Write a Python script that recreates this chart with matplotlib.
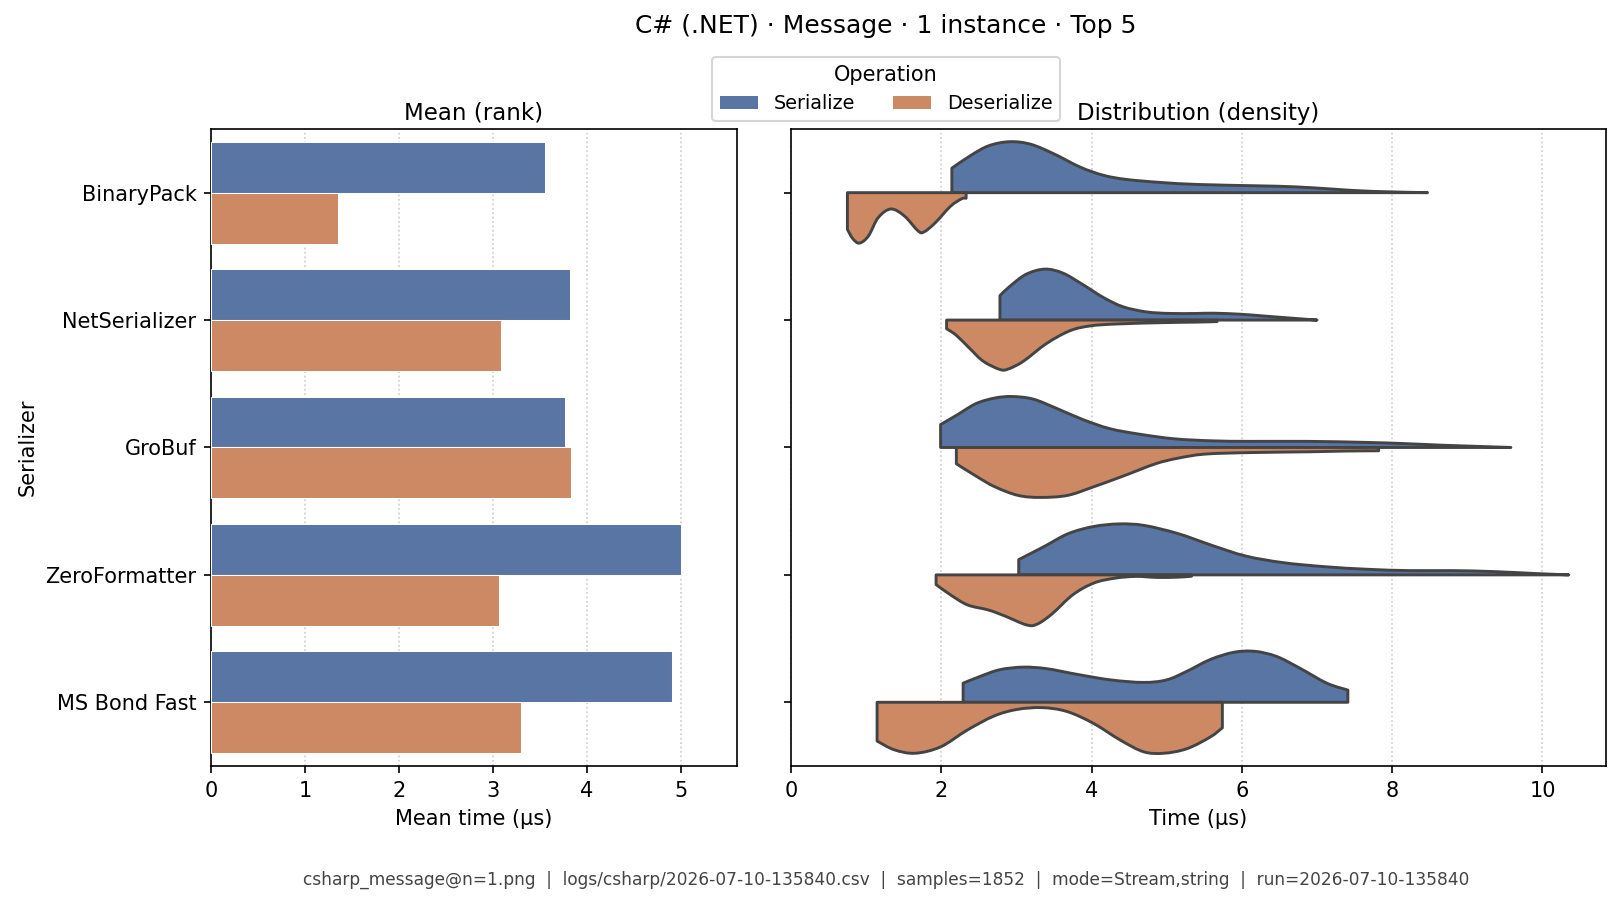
import matplotlib
matplotlib.use("Agg")
import matplotlib.pyplot as plt
from matplotlib.patches import Patch, PathPatch
from matplotlib.path import Path

# categories and operations
serializers = ["BinaryPack", "NetSerializer", "GroBuf", "ZeroFormatter", "MS Bond Fast"]
operations = ["Serialize", "Deserialize"]

# mean time (µs) per serializer
mean_serialize = [3.56, 3.82, 3.77, 5.00, 4.91]
mean_deserialize = [1.35, 3.09, 3.83, 3.07, 3.30]

# violin profiles: time (µs) and relative density (peak = 1)
bp_ser_x = [2.14, 2.38, 2.63, 2.91, 3.19, 3.50, 3.85, 4.16, 4.46, 4.92, 5.43, 6.19, 6.70, 7.21, 7.72, 8.47]
bp_ser_d = [0.48, 0.72, 0.92, 1.00, 0.95, 0.76, 0.50, 0.34, 0.26, 0.20, 0.16, 0.135, 0.115, 0.07, 0.026, 0.0]
bp_des_x = [0.75, 0.82, 0.91, 1.03, 1.16, 1.33, 1.51, 1.69, 1.77, 1.92, 2.12, 2.27, 2.33]
bp_des_d = [0.72, 0.90, 0.99, 0.85, 0.49, 0.32, 0.46, 0.75, 0.77, 0.59, 0.27, 0.12, 0.11]

ns_ser_x = [2.78, 2.91, 3.13, 3.38, 3.62, 3.89, 4.16, 4.42, 4.73, 5.04, 5.40, 5.62, 5.98, 6.29, 6.64, 7.00]
ns_ser_d = [0.48, 0.66, 0.90, 1.00, 0.92, 0.69, 0.44, 0.26, 0.16, 0.13, 0.13, 0.135, 0.115, 0.08, 0.04, 0.0]
ns_des_x = [2.07, 2.20, 2.38, 2.56, 2.78, 2.89, 3.09, 3.40, 3.71, 3.98, 4.33, 4.96, 5.40, 5.67]
ns_des_d = [0.17, 0.30, 0.56, 0.81, 0.97, 0.96, 0.81, 0.46, 0.21, 0.115, 0.077, 0.05, 0.04, 0.03]

gb_ser_x = [1.99, 2.20, 2.46, 2.71, 2.94, 3.22, 3.53, 3.88, 4.24, 4.64, 5.10, 5.61, 6.12, 6.88, 7.64, 8.15, 8.66, 9.17, 9.58]
gb_ser_d = [0.45, 0.63, 0.86, 0.97, 1.00, 0.95, 0.77, 0.55, 0.37, 0.26, 0.17, 0.13, 0.12, 0.12, 0.10, 0.077, 0.045, 0.02, 0.0]
gb_des_x = [2.20, 2.46, 2.71, 3.02, 3.32, 3.68, 4.03, 4.44, 4.85, 5.15, 5.51, 6.12, 6.88, 7.39, 7.82]
gb_des_d = [0.32, 0.56, 0.77, 0.94, 0.98, 0.94, 0.77, 0.55, 0.32, 0.21, 0.13, 0.10, 0.085, 0.07, 0.065]

zf_ser_x = [3.03, 3.36, 3.69, 4.03, 4.37, 4.70, 5.15, 5.60, 6.05, 6.55, 7.11, 7.67, 8.23, 8.79, 9.35, 9.91, 10.35]
zf_ser_d = [0.30, 0.55, 0.81, 0.95, 1.00, 0.97, 0.81, 0.58, 0.37, 0.24, 0.16, 0.11, 0.084, 0.084, 0.065, 0.026, 0.0]
zf_des_x = [1.93, 2.12, 2.35, 2.63, 2.85, 3.13, 3.27, 3.47, 3.75, 4.03, 4.31, 4.59, 4.87, 5.15, 5.33]
zf_des_d = [0.19, 0.39, 0.59, 0.69, 0.81, 0.98, 0.97, 0.77, 0.39, 0.16, 0.065, 0.03, 0.05, 0.045, 0.026]

mb_ser_x = [2.29, 2.52, 2.78, 3.09, 3.40, 3.80, 4.25, 4.69, 5.00, 5.27, 5.58, 5.89, 6.17, 6.46, 6.77, 7.13, 7.41]
mb_ser_d = [0.375, 0.51, 0.64, 0.69, 0.66, 0.55, 0.44, 0.39, 0.44, 0.61, 0.84, 0.98, 1.00, 0.90, 0.67, 0.375, 0.24]
mb_des_x = [1.145, 1.37, 1.65, 1.99, 2.34, 2.70, 3.01, 3.34, 3.67, 4.02, 4.38, 4.69, 4.96, 5.27, 5.58, 5.74]
mb_des_d = [0.76, 0.93, 1.00, 0.875, 0.55, 0.27, 0.14, 0.105, 0.18, 0.41, 0.74, 0.97, 1.00, 0.91, 0.68, 0.50]

footer = ("csharp_message@n=1.png  |  logs/csharp/2026-07-10-135840.csv  |  samples=1852  |  "
          "mode=Stream,string  |  run=2026-07-10-135840")

ser_color = "#5975a4"
des_color = "#cc8963"
edge = "#444444"

violins = [
    (bp_ser_x, bp_ser_d, bp_des_x, bp_des_d),
    (ns_ser_x, ns_ser_d, ns_des_x, ns_des_d),
    (gb_ser_x, gb_ser_d, gb_des_x, gb_des_d),
    (zf_ser_x, zf_ser_d, zf_des_x, zf_des_d),
    (mb_ser_x, mb_ser_d, mb_des_x, mb_des_d),
]


def half_violin(ax, xs, ds, center, side, color):
    # side=-1 draws above the category line (axis is inverted), +1 below
    pts = [(x, center + side * 0.4 * d) for x, d in zip(xs, ds)]
    verts = [(xs[0], center), pts[0]]
    codes = [Path.MOVETO, Path.LINETO]
    # smooth outline through the read points (catmull-rom as bezier curves)
    n = len(pts)
    for i in range(n - 1):
        p0 = pts[max(i - 1, 0)]
        p1 = pts[i]
        p2 = pts[i + 1]
        p3 = pts[min(i + 2, n - 1)]
        c1 = (p1[0] + (p2[0] - p0[0]) / 6, p1[1] + (p2[1] - p0[1]) / 6)
        c2 = (p2[0] - (p3[0] - p1[0]) / 6, p2[1] - (p3[1] - p1[1]) / 6)
        verts += [c1, c2, p2]
        codes += [Path.CURVE4] * 3
    verts += [(xs[-1], center), (xs[0], center)]
    codes += [Path.LINETO, Path.CLOSEPOLY]
    ax.add_patch(PathPatch(Path(verts, codes), facecolor=color, edgecolor=edge,
                           linewidth=1.4, joinstyle="round", zorder=3))


fig = plt.figure(figsize=(1621 / 150, 905 / 150), dpi=150)
ax1 = fig.add_axes([0.1302, 0.1536, 0.3245, 0.7039])
ax2 = fig.add_axes([0.488, 0.1536, 0.5025, 0.7039])

# left: mean bars
ypos = list(range(len(serializers)))
ax1.barh([y - 0.2 for y in ypos], mean_serialize, height=0.4, color=ser_color,
         edgecolor="white", linewidth=0.5, zorder=3)
ax1.barh([y + 0.2 for y in ypos], mean_deserialize, height=0.4, color=des_color,
         edgecolor="white", linewidth=0.5, zorder=3)
ax1.set_yticks(ypos)
ax1.set_yticklabels(serializers, fontsize=10)
ax1.set_ylim(4.5, -0.5)
ax1.set_xlim(0, 5.6)
ax1.set_xlabel("Mean time (µs)", fontsize=10)
ax1.set_ylabel("Serializer", fontsize=10)
ax1.set_title("Mean (rank)", fontsize=11, pad=4.5)
ax1.grid(axis="x", linestyle=":", color="#cccccc", linewidth=0.8, zorder=0)
ax1.tick_params(labelsize=10)

# right: split violins
for i, (sx, sd, dx, dd) in enumerate(violins):
    half_violin(ax2, sx, sd, i, -1, ser_color)
    half_violin(ax2, dx, dd, i, 1, des_color)
ax2.set_yticks(ypos)
ax2.set_yticklabels([])
ax2.set_ylim(4.5, -0.5)
ax2.set_xlim(0, 10.84)
ax2.set_xticks([0, 2, 4, 6, 8, 10])
ax2.set_xlabel("Time (µs)", fontsize=10)
ax2.set_title("Distribution (density)", fontsize=11, pad=4.5)
ax2.grid(axis="x", linestyle=":", color="#cccccc", linewidth=0.8, zorder=0)
ax2.tick_params(labelsize=10)
ax2.set_axisbelow(True)
ax1.set_axisbelow(True)

fig.text(0.5466, 0.971, "C# (.NET) · Message · 1 instance · Top 5",
         ha="center", va="center", fontsize=12)

handles = [Patch(facecolor=ser_color), Patch(facecolor=des_color)]
fig.legend(handles, operations, title="Operation", loc="upper center",
           bbox_to_anchor=(0.5466, 0.937), ncol=2, fontsize=9.2, title_fontsize=10,
           borderaxespad=0)

fig.text(0.5466, 0.0276, footer, ha="center", va="center", fontsize=8.2, color="#444444")

fig.savefig("out.png", dpi=150)
